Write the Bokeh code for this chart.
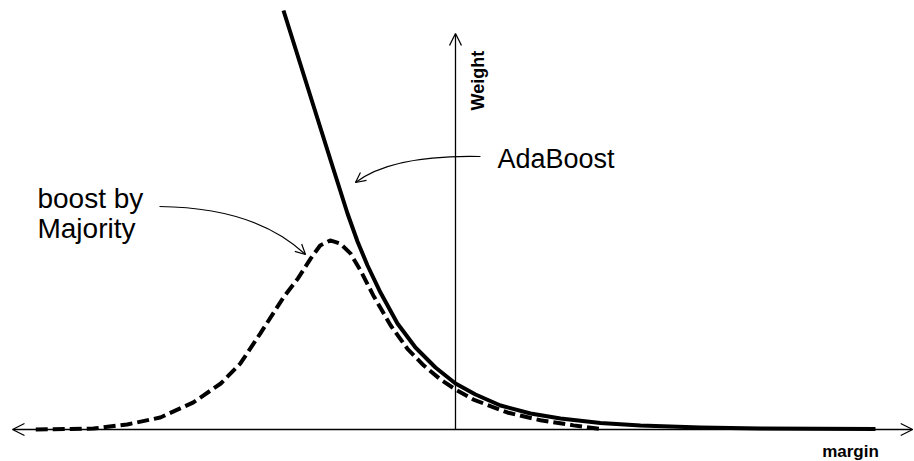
import math
from bokeh.plotting import figure
from bokeh.models import Range1d, Arrow, OpenHead, Label
from bokeh.embed import file_html
from bokeh.resources import INLINE

# AdaBoost weight curve (margin, weight)
ada_margin = [-2.389, -2.153, -1.917, -1.694, -1.500, -1.361, -1.222, -1.042, -0.806, -0.556,
              -0.278, 0.000, 0.278, 0.625, 1.042, 1.458, 2.014, 2.569, 3.403, 4.236, 5.833]
ada_weight = [9.109, 7.935, 6.761, 5.652, 4.696, 4.087, 3.565, 2.978, 2.304, 1.783,
              1.348, 1.000, 0.761, 0.522, 0.348, 0.239, 0.141, 0.087, 0.043, 0.022, 0.011]

# boost-by-majority weight curve
bbm_margin = [-5.83, -5.35, -5.03, -4.56, -4.10, -3.64, -3.26, -2.99, -2.71, -2.39,
              -2.19, -2.01, -1.88, -1.74, -1.60, -1.46, -1.32, -1.14, -0.90, -0.67,
              -0.44, -0.21, 0.00, 0.25, 0.72, 1.18, 1.64, 2.01]
bbm_weight = [0.00, 0.01, 0.02, 0.11, 0.26, 0.59, 1.00, 1.43, 2.09, 2.87,
              3.28, 3.72, 4.00, 4.11, 4.04, 3.83, 3.46, 2.91, 2.26, 1.76,
              1.39, 1.09, 0.87, 0.65, 0.37, 0.20, 0.09, 0.01]

labels = {"ada": "AdaBoost", "bbm1": "boost by", "bbm2": "Majority",
          "x": "margin", "y": "Weight"}

FONT = "Liberation Sans"

p = figure(width=914, height=461, output_backend="svg", toolbar_location=None,
           x_range=Range1d(-6.3194, 6.375), y_range=Range1d(-0.6957, 9.3261),
           x_axis_type=None, y_axis_type=None, min_border=0)
p.grid.visible = False
p.outline_line_color = None
p.background_fill_color = "white"
p.border_fill_color = "white"

# axes with open arrow heads
p.add_layout(Arrow(start=OpenHead(size=12, line_width=1.3), end=OpenHead(size=12, line_width=1.3),
                   x_start=-6.153, y_start=0, x_end=6.35, y_end=0,
                   line_width=1.3, line_color="black"))
p.add_layout(Arrow(end=OpenHead(size=12, line_width=1.3),
                   x_start=0, y_start=0, x_end=0, y_end=8.609,
                   line_width=1.3, line_color="black"))

# curves
p.line(ada_margin, ada_weight, line_width=4, line_color="black", line_join="round")
p.line(bbm_margin, bbm_weight, line_width=4, line_color="black", line_dash="12 5")

# annotation arrows
p.quadratic(x0=[-4.111, 0.347], y0=[4.848, 5.935], x1=[-2.083, -1.389], y1=[3.804, 5.370],
            cx=[-2.778, -0.875], cy=[4.826, 5.978], line_width=1.2, line_color="black")
p.add_layout(Arrow(end=OpenHead(size=10, line_width=1.2), x_start=-2.778, y_start=4.826,
                   x_end=-2.083, y_end=3.804, line_alpha=0))
p.add_layout(Arrow(end=OpenHead(size=10, line_width=1.2), x_start=-0.875, y_start=5.978,
                   x_end=-1.389, y_end=5.370, line_alpha=0))

# texts
p.add_layout(Label(x=0.583, y=5.870, text=labels["ada"], text_font=FONT, text_color="black",
                   text_font_size="27px", text_baseline="alphabetic", text_align="left"))
p.add_layout(Label(x=-5.806, y=5.022, text=labels["bbm1"], text_font=FONT, text_color="black",
                   text_font_size="28px", text_baseline="alphabetic", text_align="left"))
p.add_layout(Label(x=-5.806, y=4.370, text=labels["bbm2"], text_font=FONT, text_color="black",
                   text_font_size="28px", text_baseline="alphabetic", text_align="left"))
p.add_layout(Label(x=0.306, y=6.935, text=labels["y"], text_font=FONT, angle=math.pi / 2,
                   text_font_size="18px", text_font_style="bold", text_color="black",
                   text_baseline="alphabetic", text_align="left"))
p.add_layout(Label(x=5.486, y=-0.48, text=labels["x"], text_font=FONT, text_color="black",
                   text_font_size="17px", text_font_style="bold",
                   text_baseline="alphabetic", text_align="center"))

open("out.html", "w").write(file_html(p, INLINE))
